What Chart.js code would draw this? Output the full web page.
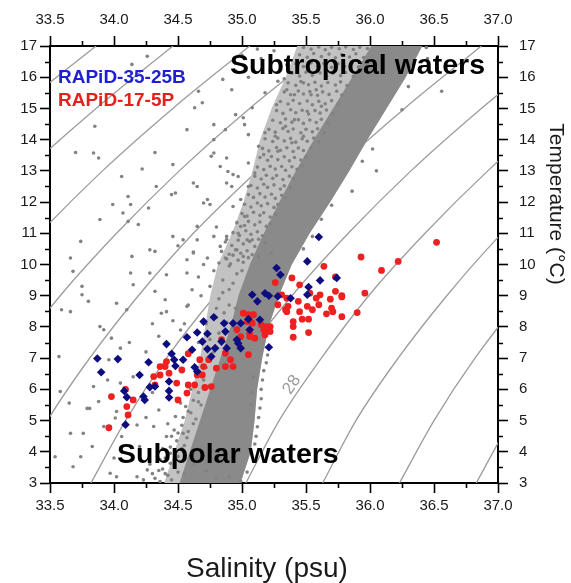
<!DOCTYPE html>
<html>
<head>
<meta charset="utf-8">
<title>T-S diagram</title>
<script src="https://cdn.jsdelivr.net/npm/chart.js@4.4.1/dist/chart.umd.min.js"></script>
<style>
  html, body { margin: 0; padding: 0; background: #fff; }
  #wrap { width: 571px; height: 583px; }
</style>
</head>
<body>
<div id="wrap"><canvas id="tsChart" width="571" height="583"></canvas></div>
<script>

/* ===== data: [salinity, temperature] ===== */

const salinityRange = [33.5, 37.0]
const temperatureRange = [3, 17]

// background CTD casts
const ctdCasts = [
  // sparse fringe, upper left
  [34.26,16.67],[34.14,16.41],[34.85,15.93],[34.66,15.55],[34.69,15.18],[34.63,15.02],[33.85,14.43],
  [34.57,14.32],[34.78,14.48],[34.78,14.00],[34.87,14.32],[34.95,14.80],[35.01,14.70],[35.02,14.48],
  [33.70,13.59],[33.84,13.57],[33.88,13.41],[34.32,13.59],[34.46,13.20],[34.78,13.57],[34.76,13.47],
  [34.88,13.41],[34.89,12.98],[34.93,12.88],[34.83,13.14],[34.88,12.61],[34.92,12.50],[34.97,12.82],
  [34.22,13.06],[34.06,12.82],[34.33,12.50],[34.62,12.61],[34.65,12.50],[34.45,12.24],[34.48,12.29],
  [34.73,12.08],[34.75,11.92],[34.11,12.18],[34.13,11.92],[33.99,11.92],[34.27,11.81],[34.07,11.65],
  [34.11,11.38],[33.89,11.44],[34.19,11.28],[33.74,10.74],[34.28,10.47],[34.32,10.42],[34.14,10.26],
  [33.66,10.21],[34.46,10.90],[34.54,10.79],[34.65,11.22],[34.70,11.97],[34.93,11.86],[34.99,12.08],
  [35.02,11.54],[34.99,11.22],[34.88,10.90],[34.78,10.90],[34.83,10.58],[34.65,10.79],[34.62,10.37],
  [34.96,10.47],[35.04,10.79],[35.01,10.26],[34.87,10.21],[34.73,10.21],[34.57,10.15],
  // upper band, scattered
  [35.28,15.87],[35.18,15.50],[35.08,15.02],[35.05,14.16],[35.27,15.12],[35.35,15.60],[35.41,15.44],
  [35.48,15.82],[35.54,15.44],[35.58,15.60],[35.62,15.07],[35.51,14.91],[35.41,14.64],[35.34,14.43],
  [35.26,14.11],[35.18,14.22],[35.13,13.79],[35.17,13.52],[35.28,13.63],[35.39,13.90],[35.48,14.11],
  [35.05,12.50],[35.10,12.93],[35.05,13.25],[34.95,16.20],[35.00,16.70],[35.05,16.00],[35.15,16.60],
  [35.22,16.20],[35.25,16.85],[35.35,16.40],[35.12,16.90],[34.92,15.60],[35.33,15.95],[35.08,10.79],
  [35.18,10.69],[35.13,10.26],[35.23,10.37],
  // upper band, crowded side
  [34.82,10.05],[34.88,10.18],[34.91,10.02],[34.97,10.14],[35.01,10.07],[35.05,10.22],
  [34.84,10.42],[34.90,10.33],[34.95,10.47],[34.99,10.36],[35.04,10.44],[35.08,10.31],
  [34.87,10.72],[34.92,10.61],[34.97,10.78],[35.01,10.66],[35.06,10.74],[35.10,10.58],[35.13,10.81],
  [34.93,11.02],[34.98,10.93],[35.03,11.08],[35.07,10.97],[35.12,11.05],[35.16,10.92],
  [34.96,11.34],[35.02,11.25],[35.05,11.38],[35.10,11.27],[35.14,11.36],[35.19,11.22],[35.22,11.31],
  [35.00,11.63],[35.04,11.55],[35.09,11.67],[35.14,11.58],[35.17,11.66],[35.22,11.52],[35.26,11.61],
  [35.02,11.93],[35.07,11.84],[35.12,11.97],[35.15,11.88],[35.20,11.95],[35.25,11.83],[35.28,11.92],
  [35.05,12.24],[35.09,12.15],[35.14,12.27],[35.18,12.16],[35.23,12.25],[35.26,12.12],[35.31,12.22],[35.34,12.14],
  [35.07,12.53],[35.12,12.45],[35.17,12.57],[35.20,12.47],[35.25,12.55],[35.30,12.42],[35.33,12.52],[35.38,12.46],
  [35.10,12.83],[35.15,12.74],[35.19,12.86],[35.24,12.76],[35.27,12.85],[35.32,12.72],[35.37,12.83],[35.40,12.75],
  [35.12,13.12],[35.17,13.04],[35.22,13.15],[35.26,13.06],[35.31,13.14],[35.34,13.02],[35.39,13.13],[35.43,13.05],[35.47,13.16],
  [35.14,13.43],[35.20,13.34],[35.23,13.46],[35.28,13.36],[35.33,13.45],[35.37,13.32],[35.41,13.43],[35.46,13.35],[35.50,13.44],
  [35.16,13.72],[35.21,13.64],[35.27,13.75],[35.30,13.66],[35.35,13.74],[35.40,13.62],[35.44,13.73],[35.48,13.65],[35.54,13.74],
  [35.18,14.03],[35.24,13.94],[35.28,14.05],[35.33,13.96],[35.38,14.04],[35.42,13.92],[35.47,14.03],[35.51,13.95],[35.56,14.05],[35.60,13.93],
  [35.21,14.33],[35.26,14.24],[35.32,14.36],[35.36,14.26],[35.40,14.34],[35.46,14.22],[35.50,14.33],[35.55,14.25],[35.59,14.35],[35.64,14.23],
  [35.24,14.62],[35.30,14.54],[35.34,14.66],[35.39,14.56],[35.44,14.64],[35.48,14.52],[35.53,14.63],[35.58,14.55],[35.62,14.65],[35.67,14.53],
  [35.27,14.93],[35.32,14.84],[35.38,14.96],[35.42,14.86],[35.47,14.94],[35.52,14.82],[35.57,14.93],[35.61,14.85],[35.66,14.95],[35.71,14.83],
  [35.30,15.22],[35.36,15.14],[35.40,15.26],[35.45,15.16],[35.51,15.24],[35.55,15.12],[35.60,15.23],[35.65,15.15],[35.70,15.25],[35.75,15.13],
  [35.33,15.53],[35.38,15.44],[35.44,15.56],[35.48,15.46],[35.53,15.54],[35.59,15.42],[35.63,15.53],[35.68,15.45],[35.74,15.55],[35.78,15.43],
  [35.36,15.82],[35.42,15.74],[35.46,15.86],[35.52,15.76],[35.57,15.84],[35.62,15.72],[35.67,15.83],[35.73,15.75],[35.77,15.85],[35.82,15.73],
  [35.39,16.13],[35.45,16.04],[35.50,16.16],[35.55,16.06],[35.61,16.14],[35.66,16.02],[35.71,16.13],[35.77,16.05],[35.81,16.15],[35.87,16.03],
  [35.42,16.43],[35.48,16.34],[35.54,16.46],[35.59,16.36],[35.64,16.44],[35.70,16.32],[35.75,16.43],[35.80,16.35],[35.86,16.45],[35.91,16.33],
  [35.45,16.72],[35.51,16.64],[35.56,16.76],[35.62,16.66],[35.68,16.74],[35.73,16.62],[35.78,16.73],[35.84,16.65],[35.89,16.75],[35.95,16.63],
  [35.48,16.95],[35.54,16.90],[35.60,16.97],[35.65,16.88],[35.70,16.96],[35.76,16.91],[35.81,16.97],[35.87,16.89],[35.92,16.96],[35.98,16.92],
  // warm, salty side
  [36.56,15.55],[36.25,14.96],[35.94,13.31],[36.05,13.00],[35.86,12.35],[36.45,16.60],[35.70,11.90],
  [35.55,10.90],[35.48,10.50],[35.62,11.45],[36.44,16.95],[36.30,15.70],[36.02,13.70],
  // sparse fringe, lower left
  [33.68,9.78],[33.75,9.30],[33.80,8.82],[33.59,8.55],[33.66,8.49],[33.75,9.03],[33.89,8.01],
  [33.92,7.91],[33.98,7.64],[34.10,8.55],[33.96,6.95],[34.05,7.32],[34.02,8.76],[34.15,9.35],
  [34.13,9.73],[34.32,9.14],[34.40,8.87],[34.37,8.44],[34.41,8.49],[34.28,9.73],[34.41,9.67],
  [34.57,9.73],[34.61,9.19],[34.57,8.66],[33.57,7.05],[33.58,5.93],[33.65,5.56],[33.76,4.59],
  [33.66,4.59],[33.79,5.39],[33.81,5.39],[33.88,5.61],[34.02,5.29],[34.01,5.08],[33.84,6.09],
  [33.92,4.81],[33.83,4.17],[33.74,3.84],[33.54,3.84],[33.68,3.52],[34.06,4.49],[34.18,4.86],
  [34.31,4.81],[34.20,4.17],[34.35,5.34],[34.34,3.84],[34.44,3.63],[33.97,3.31],[34.02,3.20],
  [34.18,3.20],[34.26,3.42],[34.41,4.49],[34.48,5.13],[34.52,5.56],[34.54,4.59],
  // left of the dense band
  [34.50,10.60],[34.62,10.40],[34.70,10.00],[34.78,9.80],[34.66,9.60],[34.85,9.50],[34.75,9.30],
  [34.90,9.20],[34.68,9.00],[34.82,8.90],[34.58,8.70],[34.93,10.30],[34.88,10.80],[34.97,11.00],
  [34.80,11.20],[35.00,9.80],[34.55,3.30],[34.62,3.60],[34.48,3.90],[34.55,4.20],[34.50,4.60],
  [34.62,4.90],[34.58,5.30],[34.66,5.60],[34.60,6.00],[34.70,6.30],[34.66,7.50],[34.72,8.10],
  [34.80,8.60],[34.45,4.50],[34.40,3.80],[34.35,3.40],[34.28,3.60],[34.45,3.10],[34.38,4.10],
  [34.52,7.90],[34.46,8.20],[34.55,8.10],[34.35,7.70],[34.30,8.10],[34.25,7.20],[34.15,6.40],
  [34.12,7.50],[34.05,6.20],[33.95,6.30],[34.00,3.80],[34.25,5.10],[34.30,5.90],[34.90,3.20],
  [34.80,3.15],[34.72,3.40],
  [34.32,3.15],[34.38,3.45],[34.42,3.25],[34.47,3.60],[34.50,3.35],[34.36,3.75],[34.44,3.95],
  [34.50,3.85],[34.40,3.30],[34.23,3.10],[34.30,3.30],[34.36,3.05],[34.44,4.15],[34.49,4.35],
  [34.53,4.10],[34.57,4.45],[34.47,4.70],[34.53,4.85],[34.58,4.65],[34.42,4.90],[34.54,5.10],
  [34.60,5.25],[34.64,5.05],[34.56,5.45],[34.62,5.65],[34.68,5.50],[34.58,5.85],[34.66,5.90],
  [34.72,6.70],[34.78,7.20],[34.82,7.80],[34.75,7.60],[34.80,8.30],[34.86,8.45],[34.90,8.70],
  [34.85,9.10],[34.93,9.40],[34.96,9.70],[34.90,9.95],[34.95,8.60],[34.88,8.15],
  // single cast right of the band
  [35.17,6.60],[35.16,6.30],[35.15,6.00],[35.15,5.70],[35.14,5.40],[35.13,5.10],[35.12,4.80],
  [35.11,4.50],[35.10,4.25],[35.09,6.40],[35.08,5.90],[35.07,5.50],[35.20,7.10],[35.19,6.85],
  [34.99,3.06],[35.04,3.35]
]

// outline of the well-sampled part of the CTD cloud (cold/fresh edge up, warm edge down)
const ctdHaloOutline = [
  [34.40,3],[34.48,4],[34.56,5],[34.62,6],[34.68,7],[34.72,8],[34.76,9],[34.82,10],[34.93,11],
  [35.02,12],[35.09,13],[35.15,14],[35.24,15],[35.35,16],[35.44,17],
  [36.40,17],[36.27,16],[36.12,15],[35.97,14],[35.83,13],[35.68,12],[35.52,11],[35.38,10],
  [35.28,9],[35.20,8],[35.15,7],[35.11,6],[35.09,5],[35.06,4],[34.98,3]
]

// outline of the densest part of the CTD cloud (warm edge up, cold edge down)
const ctdCoreOutline = [
  [34.98,3],[35.06,4],[35.09,5],[35.11,6],[35.15,7],[35.20,8],[35.28,9],[35.38,10],[35.52,11],
  [35.68,12],[35.83,13],[35.97,14],[36.12,15],[36.27,16],[36.40,17],
  [36.02,17],[35.87,16],[35.72,15],[35.57,14],[35.43,13],[35.30,12],[35.18,11],[35.07,10],
  [34.98,9],[34.92,8],[34.84,7],[34.76,6],[34.68,5],[34.60,4],[34.52,3]
]

// RAPiD-35-25B
const rapid35 = [
  [33.87,6.99],[33.90,6.55],[34.03,6.97],[34.08,5.95],[34.10,5.75],[34.09,4.87],[34.20,6.46],
  [34.27,6.87],[34.23,5.77],[34.24,5.66],[34.28,6.07],[34.32,6.09],[34.41,7.45],[34.45,7.14],
  [34.47,6.95],[34.48,6.75],[34.54,6.95],[34.43,6.25],[34.43,5.95],[34.43,5.74],[34.57,7.67],
  [34.65,7.82],[34.70,8.17],[34.78,8.31],[34.73,7.78],[34.69,7.53],[34.61,7.27],[34.63,6.71],
  [34.73,7.29],[34.79,7.32],[34.86,8.12],[34.87,7.85],[34.84,7.53],[34.88,7.32],[34.76,7.05],
  [34.93,8.12],[34.96,7.59],[34.99,7.32],[34.65,6.57],[35.27,9.89],[35.51,10.10],[35.61,9.49],
  [35.74,9.57],[35.52,9.28],[35.51,9.03],[35.28,8.98],[35.38,8.92],[35.18,9.08],[35.21,9.00],
  [35.08,9.03],[35.12,8.82],[35.14,8.23],[35.06,7.91],[35.21,7.35],[35.30,9.67],[35.05,8.25],
  [34.97,7.48],[35.60,10.88],[34.99,8.12]
]

// RAPiD-17-5P
const rapid17 = [
  [33.98,5.77],[33.96,4.77],[34.11,5.18],[34.10,5.45],[34.09,6.00],[34.15,5.66],[34.31,6.41],
  [34.32,6.14],[34.36,6.46],[34.36,6.73],[34.40,6.73],[34.41,6.89],[34.43,6.52],[34.49,6.20],
  [34.50,5.66],[34.57,5.88],[34.58,6.14],[34.63,6.14],[34.65,6.46],[34.69,6.46],[34.71,6.06],
  [34.76,6.09],[34.58,7.14],[34.67,6.95],[34.70,6.73],[34.74,6.95],[34.80,6.68],[34.84,7.59],
  [34.87,7.16],[34.91,6.95],[34.93,6.73],[34.87,6.73],[35.01,8.44],[35.04,8.17],[34.96,7.91],
  [34.99,7.69],[34.53,6.62],[35.64,9.94],[35.73,9.60],[35.45,9.35],[35.39,9.57],[35.53,9.08],
  [35.58,8.92],[35.61,9.03],[35.60,8.71],[35.69,8.89],[35.73,9.14],[35.78,9.00],[35.70,8.60],
  [35.71,8.49],[35.66,8.42],[35.78,8.33],[35.90,8.46],[35.96,9.08],[36.09,9.81],[36.22,10.10],
  [35.55,8.55],[35.51,8.66],[35.45,8.49],[35.52,8.25],[35.47,8.25],[35.40,8.17],[35.40,8.01],
  [35.52,7.82],[35.40,7.67],[35.44,8.82],[35.36,8.66],[35.34,8.55],[35.35,8.49],[35.28,8.71],
  [35.31,9.03],[35.26,9.42],[35.05,8.39],[35.08,8.12],[35.06,7.80],[35.10,7.64],[35.15,8.07],
  [35.19,8.01],[35.22,7.85],[35.18,7.75],[35.05,7.11],[35.09,8.39],[35.17,7.91],[35.22,8.01],
  [35.06,7.69],[35.35,8.92],[36.52,10.71],[35.93,10.24],[35.78,8.96]
]

// isopycnals: salinity where each one crosses the temperatures in isoTemps
const isoTemps = [3, 5, 7, 9, 11, 13, 15, 17]
const isoSalinity = [
  [30.81, 31.07, 31.40, 31.78, 32.21, 32.70, 33.25, 33.86],
  [31.41, 31.68, 32.00, 32.38, 32.82, 33.31, 33.86, 34.46],
  [32.01, 32.28, 32.60, 32.98, 33.42, 33.91, 34.46, 35.06],
  [32.62, 32.88, 33.20, 33.58, 34.02, 34.51, 35.06, 35.67],
  [33.22, 33.48, 33.81, 34.19, 34.62, 35.12, 35.66, 36.27],
  [33.82, 34.09, 34.41, 34.79, 35.23, 35.72, 36.27, 36.87],
  [34.42, 34.69, 35.01, 35.39, 35.83, 36.32, 36.87, 37.47],
  [35.03, 35.29, 35.62, 35.99, 36.43, 36.92, 37.47, 38.08],
  [35.63, 35.89, 36.22, 36.60, 37.03, 37.53, 38.07, 38.68],
  [36.23, 36.50, 36.82, 37.20, 37.64, 38.13, 38.68, 39.28],
  [36.83, 37.10, 37.42, 37.80, 38.24, 38.73, 39.28, 39.88]
]


/* ===== helpers ===== */

const toXY = pts => pts.map(([s, t]) => ({ x: s, y: t }))

const FONT = "'Liberation Sans', Arial, sans-serif"
const INK = "#1a1a1a"

function axis(position, range, step, size, pad, fmt) {
  const horizontal = position === "top" || position === "bottom"
  return {
    type: "linear",
    position: position,
    min: range[0],
    max: range[1],
    ticks: {
      stepSize: step,
      autoSkip: false,
      maxRotation: 0,
      padding: pad,
      color: INK,
      font: { family: FONT, size: 15 },
      callback: fmt
    },
    grid: {
      drawOnChartArea: false,
      drawTicks: true,
      tickLength: 10,
      tickWidth: 1.6,
      tickColor: "#000"
    },
    border: { display: true, color: "#000", width: 2 },
    afterFit(scale) {
      if (horizontal) scale.height = size
      else scale.width = size
    }
  }
}

const fmtSal = v => Number(v).toFixed(1)
const fmtTemp = v => String(Math.round(v))

function area(label, pts, colour, order) {
  return {
    type: "line",
    label: label,
    data: toXY(pts),
    borderColor: colour,
    borderWidth: 2,
    backgroundColor: colour,
    pointRadius: 0,
    tension: 0,
    fill: "shape",
    order: order
  }
}


/* ===== plugin: minor ticks, labels, titles ===== */

const decorations = {
  id: "decorations",

  afterDatasetsDraw(chart) {
    const { ctx, chartArea: a, scales } = chart
    const x = scales.x, y = scales.y
    ctx.save()

    // water mass labels
    ctx.fillStyle = "#000"
    ctx.textBaseline = "alphabetic"
    ctx.textAlign = "left"
    ctx.font = "bold 28.5px " + FONT
    ctx.fillText("Subtropical waters", a.left + 180, a.top + 28)
    ctx.fillText("Subpolar waters", a.left + 67, a.bottom - 20)

    // core names
    ctx.font = "bold 19px " + FONT
    ctx.fillStyle = "#1f1fd6"
    ctx.fillText("RAPiD-35-25B", a.left + 8, a.top + 37)
    ctx.fillStyle = "#e3211f"
    ctx.fillText("RAPiD-17-5P", a.left + 8, a.top + 60)

    // isopycnal label
    ctx.save()
    ctx.translate(x.getPixelForValue(35.39), y.getPixelForValue(6.15))
    ctx.rotate(-56 * Math.PI / 180)
    ctx.font = "17px " + FONT
    ctx.fillStyle = "#9a9a9a"
    ctx.textAlign = "center"
    ctx.textBaseline = "middle"
    ctx.fillText("28", 0, 0)
    ctx.restore()

    ctx.restore()
  },

  afterDraw(chart) {
    const { ctx, chartArea: a, scales } = chart
    ctx.save()

    // minor ticks
    ctx.strokeStyle = "#000"
    ctx.lineWidth = 1.6
    ctx.beginPath()
    for (let s = salinityRange[0] + 0.25; s < salinityRange[1]; s += 0.5) {
      const px = Math.round(scales.x.getPixelForValue(s)) + 0.5
      ctx.moveTo(px, a.top); ctx.lineTo(px, a.top - 5)
      ctx.moveTo(px, a.bottom); ctx.lineTo(px, a.bottom + 5)
    }
    for (let t = temperatureRange[0] + 0.5; t < temperatureRange[1]; t += 1) {
      const py = Math.round(scales.y.getPixelForValue(t)) + 0.5
      ctx.moveTo(a.left, py); ctx.lineTo(a.left - 5, py)
      ctx.moveTo(a.right, py); ctx.lineTo(a.right + 5, py)
    }
    ctx.stroke()

    // axis titles
    ctx.fillStyle = INK
    ctx.textAlign = "center"
    ctx.textBaseline = "alphabetic"
    ctx.font = "28px " + FONT
    ctx.fillText("Salinity (psu)", (a.left + a.right) / 2 - 7, 577)

    ctx.font = "21px " + FONT
    ctx.translate(556, 204)
    ctx.rotate(Math.PI / 2)
    ctx.textBaseline = "middle"
    ctx.fillText("Temperature (\u00B0C)", 0, 0)

    ctx.restore()
  }
}


/* ===== chart ===== */

const isoDatasets = isoSalinity.map((row, i) => ({
  type: "line",
  label: "isopycnal " + i,
  data: row.map((s, k) => ({ x: s, y: isoTemps[k] })),
  borderColor: "#9c9c9c",
  borderWidth: 1.3,
  pointRadius: 0,
  fill: false,
  cubicInterpolationMode: "monotone",
  order: 7
}))

new Chart(document.getElementById("tsChart"), {
  type: "scatter",
  data: {
    datasets: [
      {
        label: "RAPiD-35-25B",
        data: toXY(rapid35),
        pointStyle: "rectRot",
        pointRadius: 4.3,
        backgroundColor: "#0d0d80",
        borderWidth: 0,
        order: 1
      },
      {
        label: "RAPiD-17-5P",
        data: toXY(rapid17),
        pointStyle: "circle",
        pointRadius: 3.4,
        backgroundColor: "#ee2020",
        borderWidth: 0,
        order: 2
      },
      {
        label: "CTD",
        data: toXY(ctdCasts),
        pointRadius: 1.8,
        backgroundColor: "#828282",
        borderWidth: 0,
        order: 3
      },
      area("CTD core", ctdCoreOutline, "#8a8a8a", 4),
      area("CTD halo", ctdHaloOutline, "#c2c2c2", 5),
      ...isoDatasets
    ]
  },
  options: {
    responsive: false,
    animation: false,
    devicePixelRatio: 1,
    layout: { padding: 0 },
    plugins: {
      legend: { display: false },
      tooltip: { enabled: false }
    },
    scales: {
      x: axis("bottom", salinityRange, 0.5, 100, 4, fmtSal),
      x2: axis("top", salinityRange, 0.5, 46, 7, fmtSal),
      y: axis("left", temperatureRange, 1, 50, 3, fmtTemp),
      y2: axis("right", temperatureRange, 1, 73, 11, fmtTemp)
    }
  },
  plugins: [decorations]
})

</script>
</body>
</html>
